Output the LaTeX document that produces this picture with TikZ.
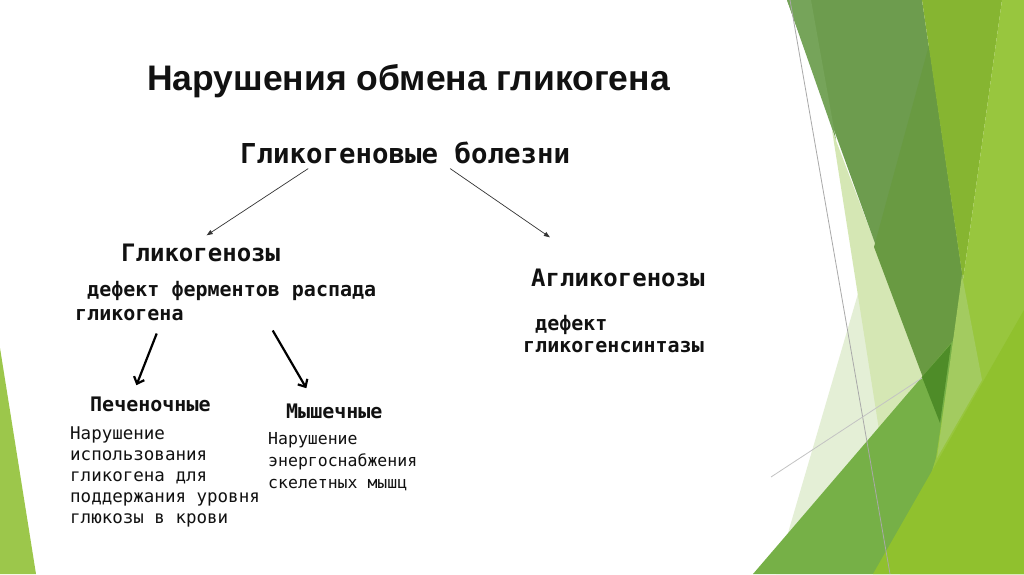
\documentclass[tikz,border=0pt]{standalone}
\usepackage{fontspec}
\setmainfont{Liberation Sans}
\newfontfamily\monofont{DejaVu Sans Mono}
\usepackage{tikz}
\usetikzlibrary{
  arrows.meta,
  positioning,
  calc
}
\usepackage{xcolor}
\definecolor{gkText}{HTML}{111111}
\definecolor{gkDark}{HTML}{6D9C4E}
\definecolor{gkDarker}{HTML}{699A42}
\definecolor{gkDarkLight}{HTML}{76A45A}
\definecolor{gkYellow}{HTML}{86B531}
\definecolor{gkLime}{HTML}{98C63E}
\definecolor{gkLowLime}{HTML}{90C12E}
\definecolor{gkMid}{HTML}{76B047}
\definecolor{gkDeep}{HTML}{4E8C28}
\definecolor{gkLight}{HTML}{A3CB60}
\definecolor{gkPale}{HTML}{E4EFD6}
\definecolor{gkPaleMid}{HTML}{D5E7B4}
\definecolor{gkSliver}{HTML}{9CC74B}
\definecolor{gkLine}{HTML}{A9A9A9}
\tikzset{
  % Slide title
  slidetitle/.style={
    font=\bfseries\fontsize{35.5}{40}\selectfont,
    text=gkText,
    inner sep=0pt,
    anchor=base west
  },
  % Main heading
  mainhead/.style={
    font=\monofont\bfseries\fontsize{27.4}{32}\selectfont,
    text=gkText,
    inner sep=0pt,
    anchor=base west
  },
  % Group headings
  grouphead/.style={
    font=\monofont\bfseries\fontsize{24}{28}\selectfont,
    text=gkText,
    inner sep=0pt,
    anchor=base west
  },
  % Defect notes (anchored on the last line)
  defectnote/.style={
    font=\monofont\bfseries\fontsize{20}{24}\selectfont,
    text=gkText,
    align=left,
    inner sep=0pt,
    anchor=base west
  },
  % Organ sub-headings
  subhead/.style={
    font=\monofont\bfseries\fontsize{20}{24}\selectfont,
    text=gkText,
    inner sep=0pt,
    anchor=base west
  },
  % Description text (anchored on the last line)
  desctext/.style={
    font=\monofont\fontsize{17.5}{21}\selectfont,
    text=gkText,
    align=left,
    inner sep=0pt,
    anchor=base west
  },
  % Thin arrow
  thinarrow/.style={
    -{Triangle[length=6pt,width=4.5pt]},
    line width=0.7pt,
    black!80
  },
  % Thick arrow
  thickarrow/.style={
    -{Straight Barb[length=6pt,width=11pt]},
    line width=2.2pt,
    black
  },
  % Thin grey guide line
  guideline/.style={
    gkLine,
    line width=0.8pt
  }
}

\begin{document}
\begin{tikzpicture}[x=1pt, y=-1pt]

%% === Page ===
\useasboundingbox (0,0) rectangle (1024,574);
\fill[white] (0,0) rectangle (1024,574);

%% === Green facets ===
% left sliver
\fill[gkSliver] (0,348) -- (36,574) -- (0,574) -- cycle;

% pale facets
\fill[gkPale] (862,280) -- (776,574) -- (900,574) -- (900,470) -- cycle;
\fill[gkPaleMid] (832,130) -- (950,440) -- (890,500) -- cycle;

% dark band
\fill[gkDark] (787,0) -- (922,0) -- (963,280) -- (940,423) -- cycle;
\fill[gkDarkLight] (787,0) -- (811,0) -- (836,140) -- cycle;
\fill[gkDarker] (929,45) -- (963,280) -- (940,423) -- (874,247) -- cycle;
\fill[gkYellow] (922,0) -- (1002,0) -- (963,280) -- cycle;

% middle green
\fill[gkMid] (753,574) -- (1024,258) -- (1024,574) -- cycle;
\fill[gkDeep] (922,377) -- (951,344) -- (940,423) -- cycle;

% lime facets
\fill[gkLime] (1002,0) -- (1024,0) -- (1024,574) -- (900,574) -- (936,458) -- (963,280) -- cycle;
\fill[gkLight] (962,275) -- (982,380) -- (937,458) -- cycle;
\fill[gkLowLime] (873,574) -- (1024,310) -- (1024,574) -- cycle;

% guide lines
\draw[guideline] (790,0) -- (890,574);
\draw[guideline, gkLine!70] (771,477) -- (922,378);

%% === Title ===
\node[slidetitle] (title) at (147,90) {Нарушения обмена гликогена};

%% === Top level ===
\node[mainhead] (bolezni) at (240,163) {Гликогеновые болезни};

% Glycogenoses branch
\node[grouphead] (glikogenozy) at (121,261) {Гликогенозы};
\node[defectnote] (glikDefect) at (75,320) {~дефект ферментов распада\\гликогена};

% Aglycogenoses branch
\node[grouphead] (aglikogenozy) at (531,286) {Агликогенозы};
\node[defectnote, font=\monofont\bfseries\fontsize{20}{22}\selectfont] (aglikDefect) at (523,352) {~дефект\\гликогенсинтазы};

\draw[thinarrow] ([xshift=-97pt,yshift=-5pt]bolezni.south) -- ([xshift=6pt,yshift=8pt]glikogenozy.north);
\draw[thinarrow] ([xshift=45pt,yshift=-5pt]bolezni.south) -- ([xshift=-68pt,yshift=31pt]aglikogenozy.north);

%% === Liver and muscle forms ===
\node[subhead] (pechen) at (90,411) {Печеночные};
\node[desctext] (pechenText) at (70,523) {Нарушение\\использования\\гликогена для\\поддержания уровня\\глюкозы в крови};

\node[subhead] (myshech) at (286,418) {Мышечные};
\node[desctext, font=\monofont\fontsize{16.5}{22}\selectfont] (myshText) at (268,488) {Нарушение\\энергоснабжения\\скелетных мышц};

\draw[thickarrow] ([xshift=-69pt,yshift=-13pt]glikDefect.south) -- ([xshift=-14pt,yshift=11pt]pechen.north);
\draw[thickarrow] ([xshift=47pt,yshift=-10pt]glikDefect.south) -- ([xshift=-28pt,yshift=15pt]myshech.north);

\end{tikzpicture}
\end{document}
